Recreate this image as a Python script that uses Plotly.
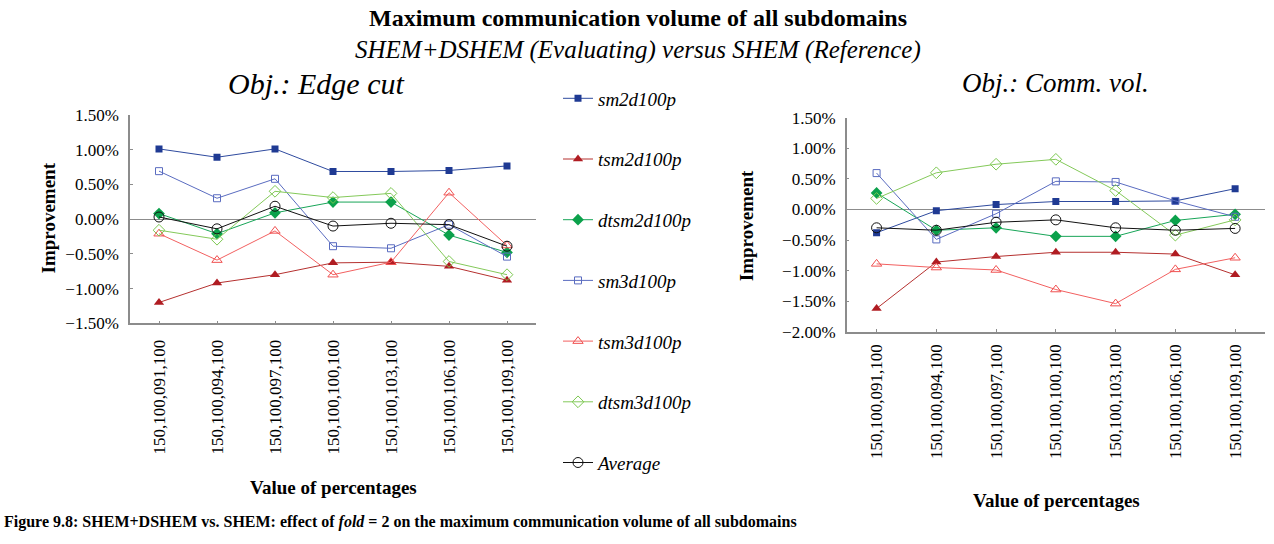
import plotly.graph_objects as go

categories = ["150,100,091,100", "150,100,094,100", "150,100,097,100", "150,100,100,100",
              "150,100,103,100", "150,100,106,100", "150,100,109,100"]
series_names = ["sm2d100p", "tsm2d100p", "dtsm2d100p", "sm3d100p", "tsm3d100p", "dtsm3d100p", "Average"]

# Obj.: Edge cut (values in %)
edge_sm2d100p = [1.01, 0.89, 1.01, 0.685, 0.685, 0.70, 0.765]
edge_tsm2d100p = [-1.20, -0.92, -0.80, -0.63, -0.62, -0.68, -0.88]
edge_dtsm2d100p = [0.08, -0.21, 0.09, 0.245, 0.245, -0.23, -0.48]
edge_sm3d100p = [0.69, 0.30, 0.58, -0.39, -0.42, -0.08, -0.54]
edge_tsm3d100p = [-0.21, -0.59, -0.17, -0.80, -0.62, 0.38, -0.38]
edge_dtsm3d100p = [-0.16, -0.29, 0.40, 0.31, 0.37, -0.61, -0.80]
edge_average = [0.03, -0.14, 0.185, -0.10, -0.06, -0.08, -0.39]

# Obj.: Comm. vol. (values in %)
comm_sm2d100p = [-0.38, -0.02, 0.08, 0.13, 0.13, 0.14, 0.34]
comm_tsm2d100p = [-1.62, -0.86, -0.77, -0.70, -0.70, -0.73, -1.07]
comm_dtsm2d100p = [0.27, -0.34, -0.30, -0.44, -0.44, -0.18, -0.08]
comm_sm3d100p = [0.595, -0.49, -0.07, 0.46, 0.45, 0.14, -0.12]
comm_tsm3d100p = [-0.89, -0.95, -0.99, -1.31, -1.54, -0.98, -0.79]
comm_dtsm3d100p = [0.18, 0.60, 0.74, 0.82, 0.31, -0.42, -0.17]
comm_average = [-0.30, -0.34, -0.21, -0.17, -0.30, -0.34, -0.31]

edge_data = [edge_sm2d100p, edge_tsm2d100p, edge_dtsm2d100p, edge_sm3d100p,
             edge_tsm3d100p, edge_dtsm3d100p, edge_average]
comm_data = [comm_sm2d100p, comm_tsm2d100p, comm_dtsm2d100p, comm_sm3d100p,
             comm_tsm3d100p, comm_dtsm3d100p, comm_average]

styles = [
    dict(line="#2E4A9E", marker=dict(symbol="square", color="#1F3A93", size=7)),
    dict(line="#B5302F", marker=dict(symbol="triangle-up", color="#B01C22", size=9)),
    dict(line="#18A558", marker=dict(symbol="diamond", color="#0BA14B", size=9)),
    dict(line="#5A6CC0", marker=dict(symbol="square-open", color="#5A6CC0", size=7)),
    dict(line="#F26060", marker=dict(symbol="triangle-up-open", color="#F05050", size=9)),
    dict(line="#84C95A", marker=dict(symbol="diamond-open", color="#7CC850", size=9)),
    dict(line="#111111", marker=dict(symbol="circle-open", color="#111111", size=10)),
]

FONT = "Liberation Serif, Times New Roman, serif"
fig = go.Figure()

for i, name in enumerate(series_names):
    st = styles[i]
    fig.add_trace(go.Scatter(
        x=categories, y=[v / 100 for v in edge_data[i]], name=name, mode="lines+markers",
        line=dict(color=st["line"], width=1), marker=st["marker"],
        legendgroup=name, showlegend=True, xaxis="x", yaxis="y"))
    fig.add_trace(go.Scatter(
        x=categories, y=[v / 100 for v in comm_data[i]], name=name, mode="lines+markers",
        line=dict(color=st["line"], width=1), marker=st["marker"],
        legendgroup=name, showlegend=False, xaxis="x2", yaxis="y2"))

W, H = 1274, 544
def px(x):
    return x / W
def py(y):
    return (H - y) / H

axis_common = dict(showline=True, linecolor="#8C8C8C", linewidth=1.5, showgrid=False,
                   zeroline=False, ticks="inside", ticklen=3, tickcolor="#8C8C8C",
                   tickfont=dict(family=FONT, size=17, color="black"))

fig.update_layout(
    width=W, height=H, margin=dict(l=0, r=0, t=0, b=0),
    paper_bgcolor="white", plot_bgcolor="white",
    font=dict(family=FONT, color="black"),
    xaxis=dict(axis_common, domain=[px(130), px(536)], type="category", range=[-0.5, 6.5],
               tickangle=-90, anchor="y", ticklabelstandoff=8),
    yaxis=dict(axis_common, domain=[py(325.7), py(109.7)], range=[-0.015, 0.015],
               dtick=0.005, tickformat=".2%", anchor="x", ticklabelstandoff=6,
               zeroline=True, zerolinecolor="#8C8C8C", zerolinewidth=1),
    xaxis2=dict(axis_common, domain=[px(846.7), px(1265)], type="category", range=[-0.5, 6.5],
                tickangle=-90, anchor="y2", ticklabelstandoff=4),
    yaxis2=dict(axis_common, domain=[py(334.4), py(112.7)], range=[-0.02, 0.015],
                dtick=0.005, tickformat=".2%", anchor="x2", ticklabelstandoff=6,
                zeroline=True, zerolinecolor="#8C8C8C", zerolinewidth=1),
    legend=dict(x=px(558), y=py(73), xanchor="left", yanchor="top",
                font=dict(family=FONT, size=19, color="black", style="italic"),
                tracegroupgap=33, bgcolor="rgba(0,0,0,0)", itemwidth=30),
    showlegend=True,
)

ann = [
    dict(text="<b>Maximum communication volume of all subdomains</b>", x=px(638), y=py(9),
         font=dict(size=24)),
    dict(text="<i>SHEM+DSHEM (Evaluating) versus SHEM (Reference)</i>", x=px(638), y=py(42),
         font=dict(size=25)),
    dict(text="<i>Obj.: Edge cut</i>", x=px(316), y=py(77), font=dict(size=30)),
    dict(text="<i>Obj.: Comm. vol.</i>", x=px(1055), y=py(77), font=dict(size=27)),
    dict(text="<b>Improvement</b>", x=px(48), y=py(216), textangle=-90, font=dict(size=19)),
    dict(text="<b>Improvement</b>", x=px(746), y=py(224), textangle=-90, font=dict(size=19)),
    dict(text="<b>Value of percentages</b>", x=px(333), y=py(496), font=dict(size=19)),
    dict(text="<b>Value of percentages</b>", x=px(1056), y=py(509), font=dict(size=19)),
    dict(text="<b>Figure 9.8: SHEM+DSHEM vs. SHEM: effect of <i>fold</i> = 2 on the maximum communication volume of all subdomains</b>",
         x=px(2), y=py(543), xanchor="left", yanchor="bottom", font=dict(size=16)),
]
for a in ann:
    a.setdefault("xanchor", "center")
    a.setdefault("yanchor", "middle")
    a.update(xref="paper", yref="paper", showarrow=False)
    a["font"] = dict(family=FONT, color="black", **a["font"])
fig.update_layout(annotations=ann)

fig.write_html("out.html", config={"displayModeBar": False},
               post_script="document.body.style.margin='0';document.body.style.overflow='hidden';")
